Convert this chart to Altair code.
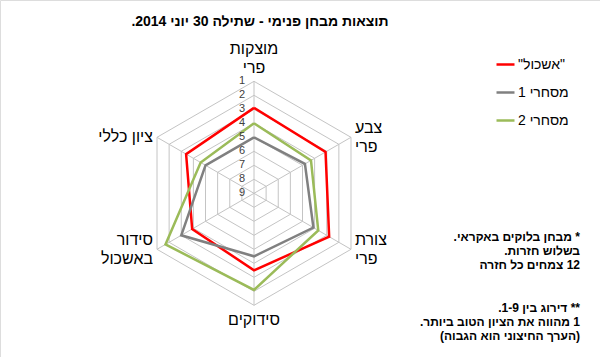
import altair as alt
import pandas as pd

RLM = "\u200f"

# ---- data ----
categories = ["מוצקות\nפרי", "צבע\nפרי", "צורת\nפרי", "סידוקים", "סידור\nבאשכול", "ציון כללי"]
series_names = ['"אשכול"', "מסחרי 1", "מסחרי 2"]
eshkol = [2.9, 3.1, 2.8, 3.5, 3.9, 3.4]
mishari1 = [5.0, 4.8, 4.1, 4.5, 3.0, 5.0]
mishari2 = [4.0, 4.3, 3.7, 2.1, 1.7, 4.6]
scale_ticks = [1, 2, 3, 4, 5, 6, 7, 8, 9]
grid_levels = [1, 2, 3, 4, 5, 6, 7, 8]
series_colors = ["#ff0000", "#808080", "#9bbb59"]

title_text = "תוצאות מבחן פנימי - שתילה 30 יוני 2014."
note_block1 = [
    "* מבחן בלוקים באקראי.",
    "בשלוש חזרות.",
    "12 צמחים כל חזרה",
]
note_block2 = [
    "** דירוג בין 1-9.",
    "1 מהווה את הציון הטוב ביותר.",
    "(הערך החיצוני הוא הגבוה)",
]

FONT = "Liberation Sans"
N = len(categories)

def rtl(s):
    return RLM + s + RLM if s else s

legend_names = [rtl(s) for s in series_names]

# ---- tables ----
rows = []
for name, vals in zip(legend_names, [eshkol, mishari1, mishari2]):
    for i in range(N + 1):
        rows.append({"series": name, "idx": i, "value": vals[i % N]})
series_df = pd.DataFrame(rows)

grid_df = pd.DataFrame([{"level": l, "idx": i} for l in grid_levels for i in range(N + 1)])
spoke_df = pd.DataFrame({"idx": list(range(N))})
cat_df = pd.DataFrame({"idx": list(range(N)), "label": [c.split("\n") for c in categories]})
cat_df["label"] = cat_df["label"].apply(lambda ls: [rtl(x) for x in ls])
tick_df = pd.DataFrame({"v": scale_ticks, "t": [str(v) for v in scale_ticks]})

# pixel geometry: centre at (254, 193.3), 14 px per scale unit
W, H = 600, 357
CX, CY, UNIT = 254, 193.3, 14.0
xscale = alt.Scale(domain=[-CX / UNIT, (W - CX) / UNIT], nice=False, zero=False)
yscale = alt.Scale(domain=[-(H - CY) / UNIT, CY / UNIT], nice=False, zero=False)

def X(f):
    return alt.X(f, type="quantitative", scale=xscale, axis=None)

def Y(f):
    return alt.Y(f, type="quantitative", scale=yscale, axis=None)

ang = "datum.idx*PI/%d*2" % N

grid = alt.Chart(grid_df).mark_line(color="#c4c4c4", strokeWidth=1).transform_calculate(
    gx="(9-datum.level)*sin(%s)" % ang, gy="(9-datum.level)*cos(%s)" % ang
).encode(x=X("gx"), y=Y("gy"), detail="level:N", order="idx:Q")

spokes = alt.Chart(spoke_df).mark_rule(color="#c4c4c4", strokeWidth=1).transform_calculate(
    sx="8*sin(%s)" % ang, sy="8*cos(%s)" % ang, zx="0", zy="0"
).encode(x=X("zx"), y=Y("zy"), x2="sx:Q", y2="sy:Q")

lines = alt.Chart(series_df).mark_line(strokeWidth=2.5).transform_calculate(
    px="(9-datum.value)*sin(%s)" % ang, py="(9-datum.value)*cos(%s)" % ang
).encode(
    x=X("px"), y=Y("py"),
    color=alt.Color(
        "series:N",
        scale=alt.Scale(domain=legend_names, range=series_colors),
        sort=legend_names,
        legend=alt.Legend(
            title=None, orient="none", legendX=495, legendY=54,
            symbolType="stroke", symbolSize=324, symbolStrokeWidth=2.5,
            labelFontSize=14, labelFont=FONT, labelColor="#000000",
            rowPadding=10, labelOffset=2, padding=0,
        ),
    ),
    order="idx:Q",
)

ticks = alt.Chart(tick_df).mark_text(
    font=FONT, fontSize=11, color="#404040", align="center", baseline="middle", dx=-12
).transform_calculate(ty="9-datum.v", tx="0").encode(x=X("tx"), y=Y("ty"), text="t:N")

def cat_layer(idxs, **kw):
    return alt.Chart(cat_df).transform_filter(
        alt.FieldOneOfPredicate(field="idx", oneOf=idxs)
    ).transform_calculate(
        lx="8*sin(%s)" % ang, ly="8*cos(%s)" % ang
    ).mark_text(font=FONT, fontSize=16, color="#000000", lineHeight=19, **kw).encode(
        x=X("lx"), y=Y("ly"), text="label"
    )

cat_top = cat_layer([0], align="center", baseline="middle", dy=-32)
cat_right = cat_layer([1, 2], align="left", baseline="middle", dx=4, dy=-9)
cat_bottom = cat_layer([3], align="center", baseline="top", dy=7)
cat_left = cat_layer([4, 5], align="right", baseline="middle", dx=-4, dy=-9)
# single-line left label sits centred on its vertex
cat_left1 = cat_layer([5], align="right", baseline="middle", dx=-4)
cat_left = cat_layer([4], align="right", baseline="middle", dx=-4, dy=-9)

title = alt.Chart(pd.DataFrame({"t": [rtl(title_text)]})).mark_text(
    font=FONT, fontSize=14, fontWeight="bold", color="#000000", align="center", baseline="middle"
).encode(x=alt.value(260), y=alt.value(22), text="t:N")

notes1 = alt.Chart(pd.DataFrame({"t": [[rtl(s) for s in note_block1]]})).mark_text(
    font=FONT, fontSize=12, fontWeight="bold", color="#000000", align="right",
    baseline="middle", lineHeight=14
).encode(x=alt.value(580), y=alt.value(237), text="t")

notes2 = alt.Chart(pd.DataFrame({"t": [[rtl(s) for s in note_block2]]})).mark_text(
    font=FONT, fontSize=12, fontWeight="bold", color="#000000", align="right",
    baseline="middle", lineHeight=14
).encode(x=alt.value(580), y=alt.value(308), text="t")

chart = alt.layer(
    grid, spokes, lines, ticks, cat_top, cat_right, cat_bottom, cat_left, cat_left1,
    title, notes1, notes2
).properties(
    width=W, height=H, autosize=alt.AutoSizeParams(type="none"), padding=0
).configure_view(stroke="#a6a6a6", strokeWidth=2).configure(background="white")

chart.save("out.html", embed_options={"renderer": "svg", "actions": False})
